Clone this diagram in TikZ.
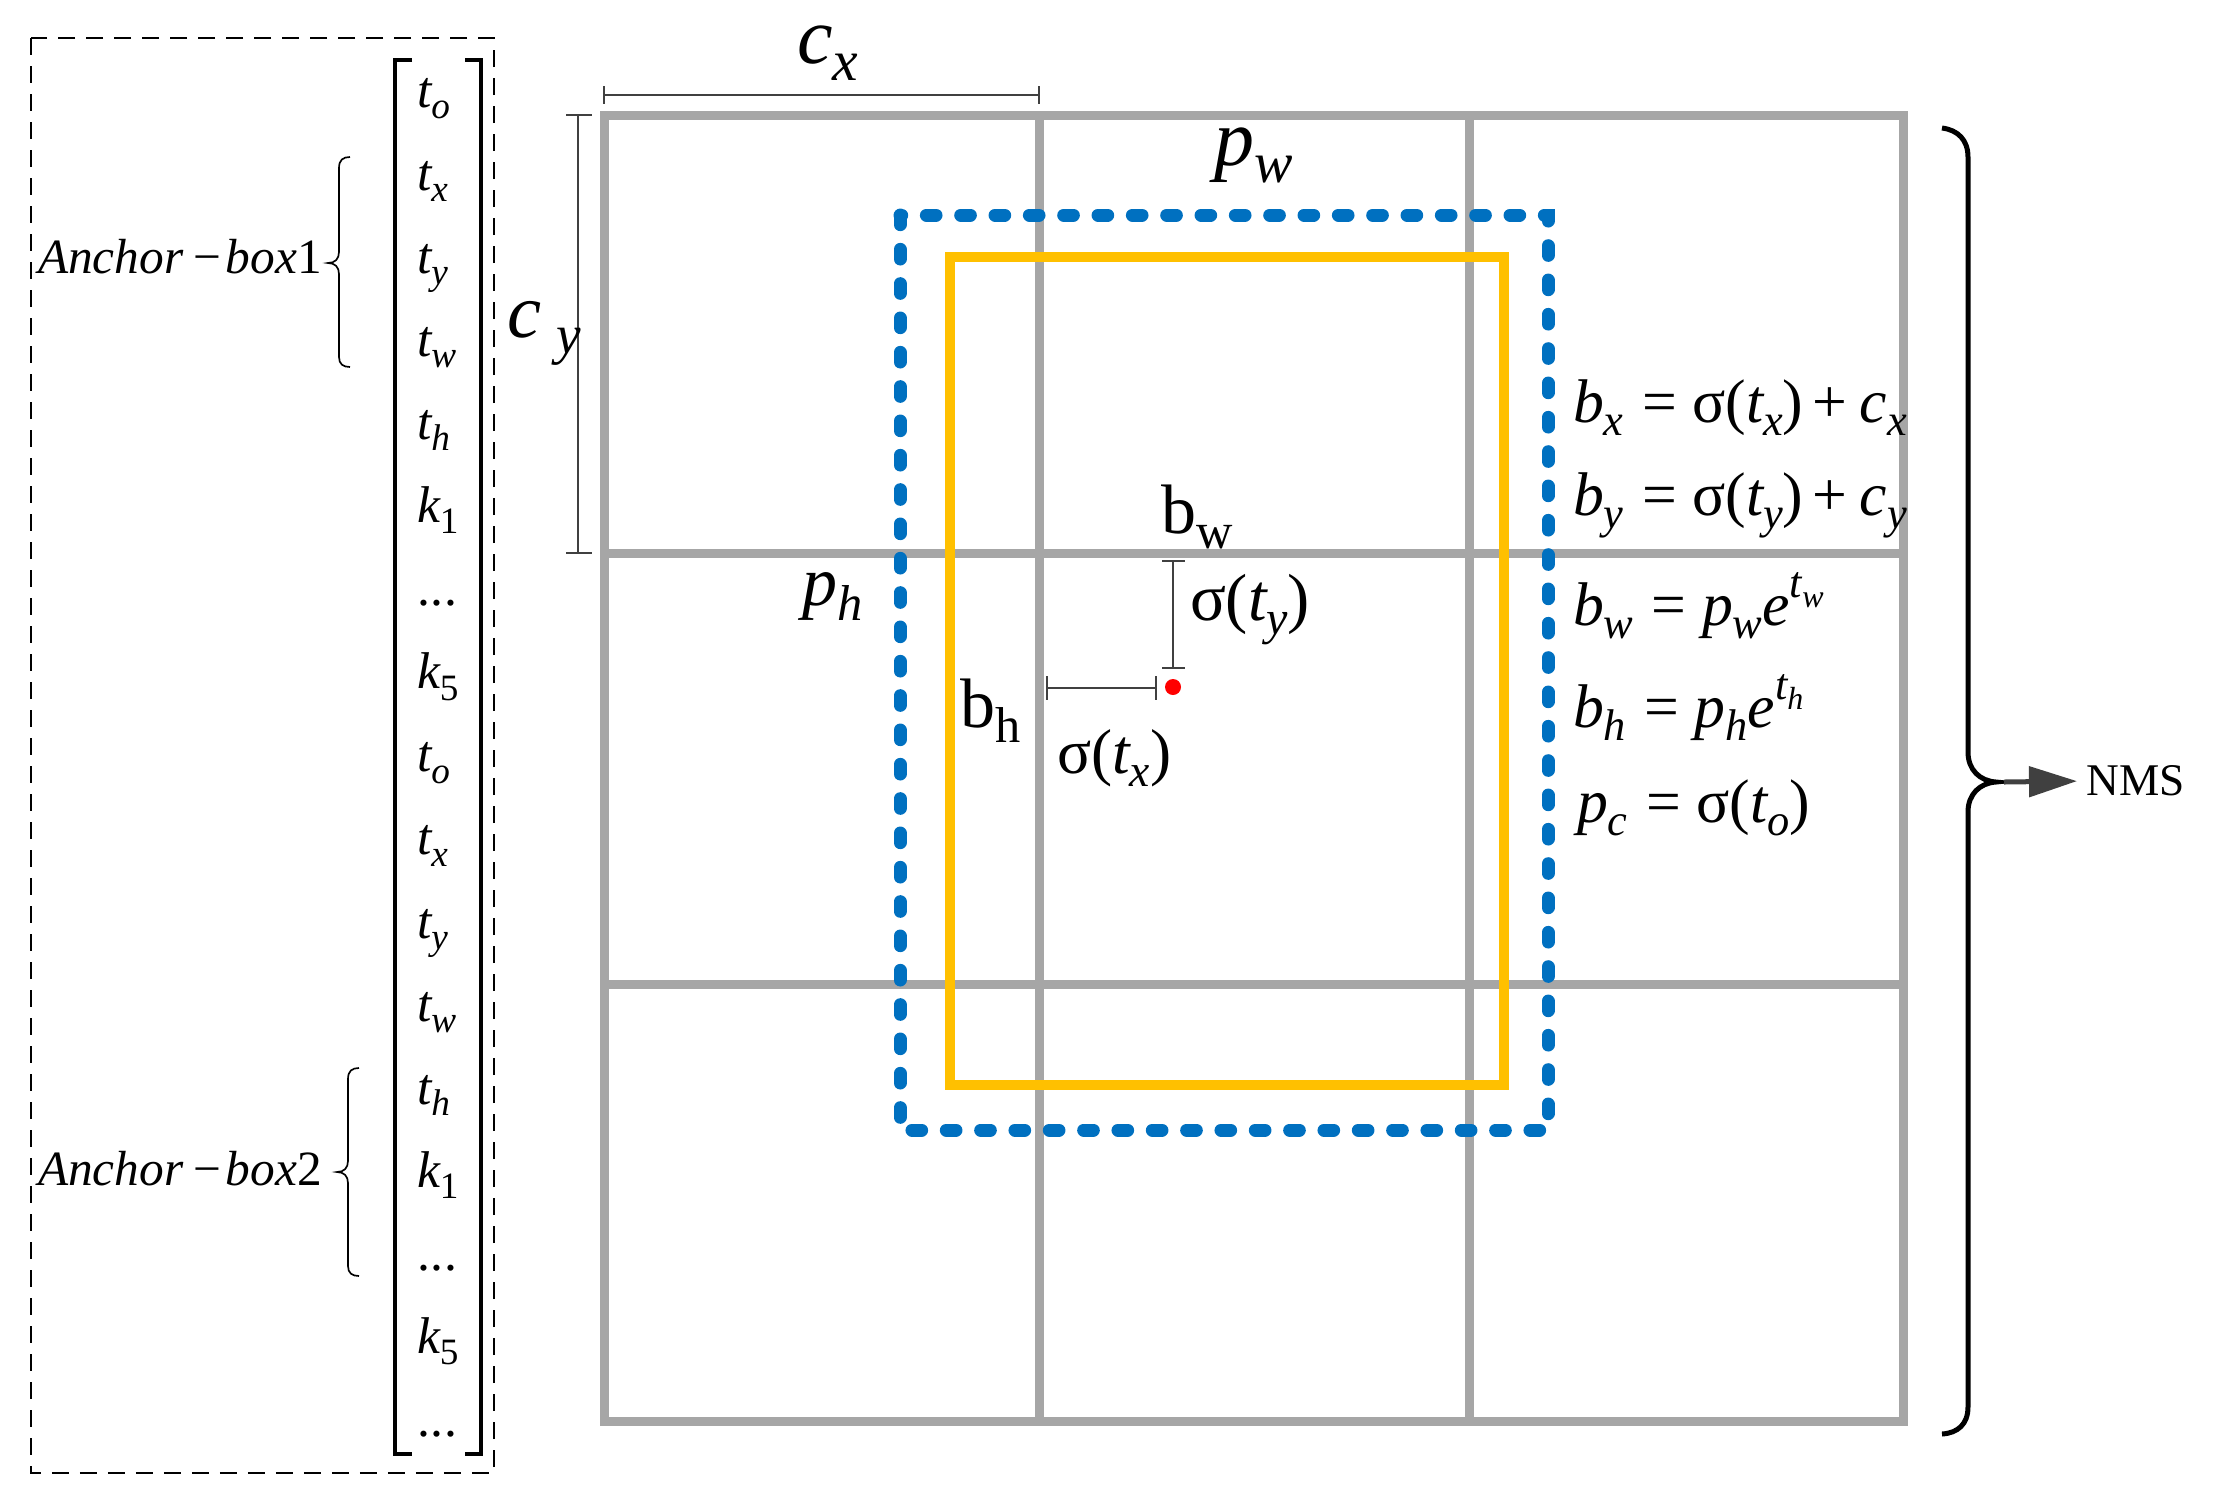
\documentclass[tikz,border=0pt]{standalone}
\usepackage{fontspec}
\setmainfont{Liberation Serif}
\newfontfamily\tnr{Liberation Serif}
\usetikzlibrary{arrows.meta}
\definecolor{gridgray}{RGB}{166,166,166}
\definecolor{boxblue}{RGB}{0,112,192}
\definecolor{boxyellow}{RGB}{255,192,0}
\definecolor{dimgray}{RGB}{64,64,64}
\makeatletter
\newcommand\subsz{\fontsize{\strip@pt\dimexpr0.72\dimexpr\f@size pt\relax\relax}{1}\selectfont}
\makeatother
\newcommand\mi[1]{{\itshape #1}}
\newcommand\ls[1]{\raisebox{-0.22em}{\subsz\itshape #1}}
\newcommand\lr[1]{\raisebox{-0.22em}{\subsz\upshape #1}}
\newcommand\us[1]{\raisebox{0.45em}{\subsz\itshape #1}}
\newcommand\eq{\hspace{0.3em}=\hspace{0.25em}}
\newcommand\pl{\hspace{0.15em}+\hspace{0.2em}}
\newcommand\tdots{.\kern0.02em.\kern0.02em.}
\newcommand\fs[1]{\fontsize{#1}{#1}\selectfont}
\tikzset{
  lbl/.style={anchor=base west,inner sep=0pt,outer sep=0pt},
  ent/.style={lbl,font=\tnr\fs{15.5}},
  gridline/.style={draw=gridgray,line width=2.7pt},
  bluebox/.style={draw=boxblue,line width=3.9pt,line cap=round,dash pattern=on 2.9pt off 7.4pt},
  yellowbox/.style={draw=boxyellow,line width=2.9pt},
  dimline/.style={draw=dimgray,line width=0.7pt},
  thinbrace/.style={draw=black,line width=0.5pt},
  bigbrace/.style={draw=black,line width=1.5pt},
  nmsarrow/.style={draw=dimgray,line width=1.5pt,-{Triangle[length=14.4pt,width=9pt]}},
  outerdash/.style={draw=black,line width=0.5pt,dash pattern=on 5.1pt off 3.3pt}
}
\begin{document}
\begin{tikzpicture}[x=0.3pt,y=-0.3pt]
\useasboundingbox (0,0) rectangle (2213,1506);
% dashed outer box
\draw[outerdash] (31,38) rectangle (494,1473);
% matrix brackets
\draw[line width=1.2pt] (412,60) -- (395,60) -- (395,1454) -- (412,1454);
\draw[line width=1.2pt] (465,60) -- (481,60) -- (481,1454) -- (465,1454);
% matrix entries
\foreach \e [count=\i from 0] in {{\mi{t}\ls{o}},{\mi{t}\ls{x}},{\mi{t}\ls{y}},{\mi{t}\ls{w}},{\mi{t}\ls{h}},{\mi{k}\lr{1}},{\tdots},{\mi{k}\lr{5}},{\mi{t}\ls{o}},{\mi{t}\ls{x}},{\mi{t}\ls{y}},{\mi{t}\ls{w}},{\mi{t}\ls{h}},{\mi{k}\lr{1}},{\tdots},{\mi{k}\lr{5}},{\tdots}}
  \node[ent] (m\i) at (417,{107+83.1*\i}) {\e};
% anchor labels and braces
\node[lbl,font=\tnr\fs{14.8}] (a1) at (38,273) {\mi{Anchor}\hspace{0.2em}−\hspace{0.1em}\mi{box}1};
\node[lbl,font=\tnr\fs{14.8}] (a2) at (38,1185) {\mi{Anchor}\hspace{0.2em}−\hspace{0.1em}\mi{box}2};
\draw[thinbrace] (350,157) .. controls (343,157) and (339,160) .. (339,168) -- (339,252) .. controls (339,259) and (335,263) .. (328,263) .. controls (335,263) and (339,267) .. (339,274) -- (339,357) .. controls (339,364) and (343,367) .. (350,367);
\draw[thinbrace] (359,1068) .. controls (352,1068) and (348,1071) .. (348,1079) -- (348,1161) .. controls (348,1168) and (344,1172) .. (337,1172) .. controls (344,1172) and (348,1176) .. (348,1183) -- (348,1266) .. controls (348,1273) and (352,1276) .. (359,1276);
% grid
\draw[gridline] (604,115) rectangle (1903,1421);
\draw[gridline] (1039,115) -- (1039,1421);
\draw[gridline] (1469,115) -- (1469,1421);
\draw[gridline] (604,553) -- (1903,553);
\draw[gridline] (604,984) -- (1903,984);
% boxes
\draw[bluebox] (900,215) rectangle (1548,1130);
\draw[yellowbox] (950,257) rectangle (1504,1085);
% dimension lines
\draw[dimline] (604,95) -- (1039,95);
\draw[dimline] (604,86) -- (604,104);
\draw[dimline] (1039,86) -- (1039,104);
\draw[dimline] (578,115) -- (578,553);
\draw[dimline] (566,115) -- (592,115);
\draw[dimline] (566,553) -- (592,553);
\draw[dimline] (1173,561) -- (1173,668);
\draw[dimline] (1162,561) -- (1185,561);
\draw[dimline] (1162,668) -- (1185,668);
\draw[dimline] (1047,688) -- (1156,688);
\draw[dimline] (1047,676) -- (1047,700);
\draw[dimline] (1156,676) -- (1156,700);
\fill[red] (1173,687) circle (2.4pt);
% labels
\node[lbl,font=\tnr\fs{24}] (cx) at (797,63) {\mi{c}\ls{x}};
\node[lbl,font=\tnr\fs{23}] (cy) at (507,337) {\mi{c}\hspace{0.2em}\ls{y}};
\node[lbl,font=\tnr\fs{24}] (pw) at (1214,165) {\mi{p}\ls{w}};
\node[lbl,font=\tnr\fs{21}] (ph) at (802,605) {\mi{p}\ls{h}};
\node[lbl,font=\tnr\fs{21}] (bw) at (1161,533) {b\lr{w}};
\node[lbl,font=\tnr\fs{21}] (bh) at (960,727) {b\lr{h}};
\node[lbl,font=\tnr\fs{20}] (sty) at (1190,620) {σ(\mi{t}\ls{y})};
\node[lbl,font=\tnr\fs{19}] (stx) at (1057,773) {σ(\mi{t}\ls{x})};
% formulas
\node[lbl,font=\tnr\fs{18.5}] (f1) at (1573,422) {\mi{b}\ls{x}\eq σ(\mi{t}\ls{x})\pl\mi{c}\ls{x}};
\node[lbl,font=\tnr\fs{18.5}] (f2) at (1573,515) {\mi{b}\ls{y}\eq σ(\mi{t}\ls{y})\pl\mi{c}\ls{y}};
\node[lbl,font=\tnr\fs{18.5}] (f3) at (1573,625) {\mi{b}\ls{w}\eq\mi{p}\ls{w}\mi{e}\us{t\ls{w}}};
\node[lbl,font=\tnr\fs{18.5}] (f4) at (1573,727) {\mi{b}\ls{h}\eq\mi{p}\ls{h}\mi{e}\us{t\ls{h}}};
\node[lbl,font=\tnr\fs{18.5}] (f5) at (1577,822) {\mi{p}\ls{c}\eq σ(\mi{t}\ls{o})};
% big brace and NMS
\draw[bigbrace] (1942,128) .. controls (1958,130) and (1968,140) .. (1968,157) -- (1968,752) .. controls (1968,770) and (1980,781) .. (1996,782) .. controls (1980,783) and (1968,794) .. (1968,812) -- (1968,1407) .. controls (1968,1424) and (1958,1433) .. (1942,1434);
\coordinate (tip) at (2004,782);
\node[anchor=west,inner sep=0pt,font=\tnr\fs{13.6}] (nms) at (2086,781) {NMS};
\draw[nmsarrow,shorten >=2.7pt] (tip) -- (nms.west);
\end{tikzpicture}
\end{document}
